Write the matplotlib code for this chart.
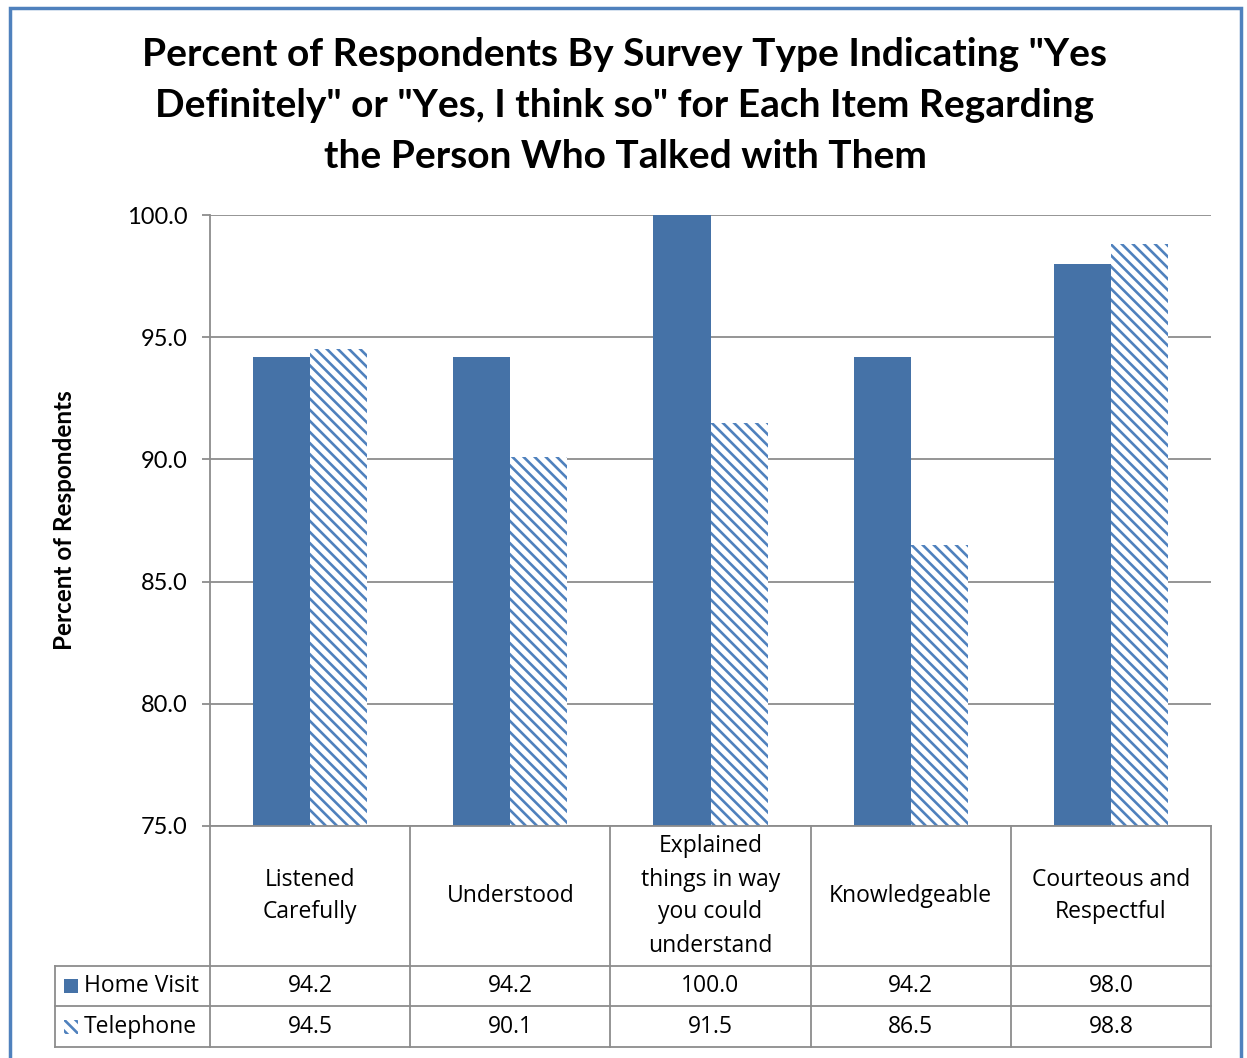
import matplotlib
matplotlib.use("Agg")
import matplotlib.pyplot as plt
from matplotlib.lines import Line2D
from matplotlib.patches import Rectangle
import numpy as np

categories = ["Listened\nCarefully", "Understood", "Explained\nthings in way\nyou could\nunderstand",
              "Knowledgeable", "Courteous and\nRespectful"]
series_names = ["Home Visit", "Telephone"]
home_visit = [94.2, 94.2, 100.0, 94.2, 98.0]
telephone = [94.5, 90.1, 91.5, 86.5, 98.8]
yticks = [75.0, 80.0, 85.0, 90.0, 95.0, 100.0]

SOLID = "#4572A7"
HATCH = "#4F81BD"
GRID = "#8C8C8C"
W, H = 1247, 1058

plt.rcParams["hatch.linewidth"] = 1.9
plt.rcParams["hatch.color"] = HATCH


def fx(px):
    return px / W


def fy(py):
    return 1 - py / H


fig = plt.figure(figsize=(W / 100, H / 100), dpi=100)
ax = fig.add_axes([fx(210), fy(826), fx(1211) - fx(210), fy(215) - fy(826)])

x = np.arange(len(categories))
bw = 0.285
ax.bar(x - bw / 2, home_visit, bw, color=SOLID, zorder=2)
ax.bar(x + bw / 2, telephone, bw, color="white", edgecolor=HATCH, hatch="\\\\\\",
       linewidth=0, zorder=2)

ax.set_xlim(-0.5, len(categories) - 0.5)
ax.set_ylim(75, 100)
ax.set_yticks(yticks)
ax.set_yticklabels([f"{t:.1f}" for t in yticks], fontsize=17, family="Lato")
ax.set_xticks([])
ax.grid(axis="y", color=GRID, lw=1.3, zorder=0)
for s in ["top", "right"]:
    ax.spines[s].set_visible(False)
for s in ["left", "bottom"]:
    ax.spines[s].set_color(GRID)
    ax.spines[s].set_linewidth(1.3)
ax.tick_params(axis="y", length=6, color=GRID, width=1.3, pad=10)
ax.set_ylabel("Percent of Respondents", fontsize=17.5, fontweight="bold",
              family="Lato", labelpad=37)

fig.suptitle('Percent of Respondents By Survey Type Indicating "Yes\n'
             'Definitely" or "Yes, I think so" for Each Item Regarding\n'
             'the Person Who Talked with Them',
             x=fx(625), y=fy(37), va="top", fontsize=28, fontweight="bold",
             family="Lato", linespacing=1.56)

# ── data table under the axis ───────────────────────────────────────────────
col_edges = [210 + 200.2 * i for i in range(len(categories) + 1)]
rows_y = [826, 966, 1006, 1047]
lk = dict(color=GRID, lw=1.3, transform=fig.transFigure)
for cx in col_edges:
    fig.add_artist(Line2D([fx(cx), fx(cx)], [fy(826), fy(1047)], **lk))
for ry in rows_y[1:]:
    fig.add_artist(Line2D([fx(55), fx(1211)], [fy(ry), fy(ry)], **lk))
fig.add_artist(Line2D([fx(55), fx(55)], [fy(966), fy(1047)], **lk))

tk = dict(ha="center", va="center", fontsize=16.5, family="Open Sans",
          transform=fig.transFigure)
for i, cat in enumerate(categories):
    cx = (col_edges[i] + col_edges[i + 1]) / 2
    fig.text(fx(cx), fy(896), cat, linespacing=1.5, **tk)
    fig.text(fx(cx), fy(986), f"{home_visit[i]:.1f}", **tk)
    fig.text(fx(cx), fy(1027), f"{telephone[i]:.1f}", **tk)

for j, (name, ry) in enumerate(zip(series_names, [986, 1027])):
    fig.text(fx(84), fy(ry), name, ha="left", va="center", fontsize=16.5,
             family="Open Sans")
    if j == 0:
        key = Rectangle((fx(64), fy(ry + 7)), fx(14), fy(0) - fy(14),
                        facecolor=SOLID, transform=fig.transFigure)
    else:
        key = Rectangle((fx(64), fy(ry + 7)), fx(14), fy(0) - fy(14),
                        facecolor="white", edgecolor=HATCH, hatch="\\\\\\", lw=0,
                        transform=fig.transFigure)
    fig.add_artist(key)

# outer chart border
fig.add_artist(Rectangle((fx(10), fy(1070)), fx(1231), fy(8) - fy(1070), fill=False,
                         edgecolor="#4F81BD", lw=2.5, transform=fig.transFigure))

fig.savefig("out.png", dpi=100)
